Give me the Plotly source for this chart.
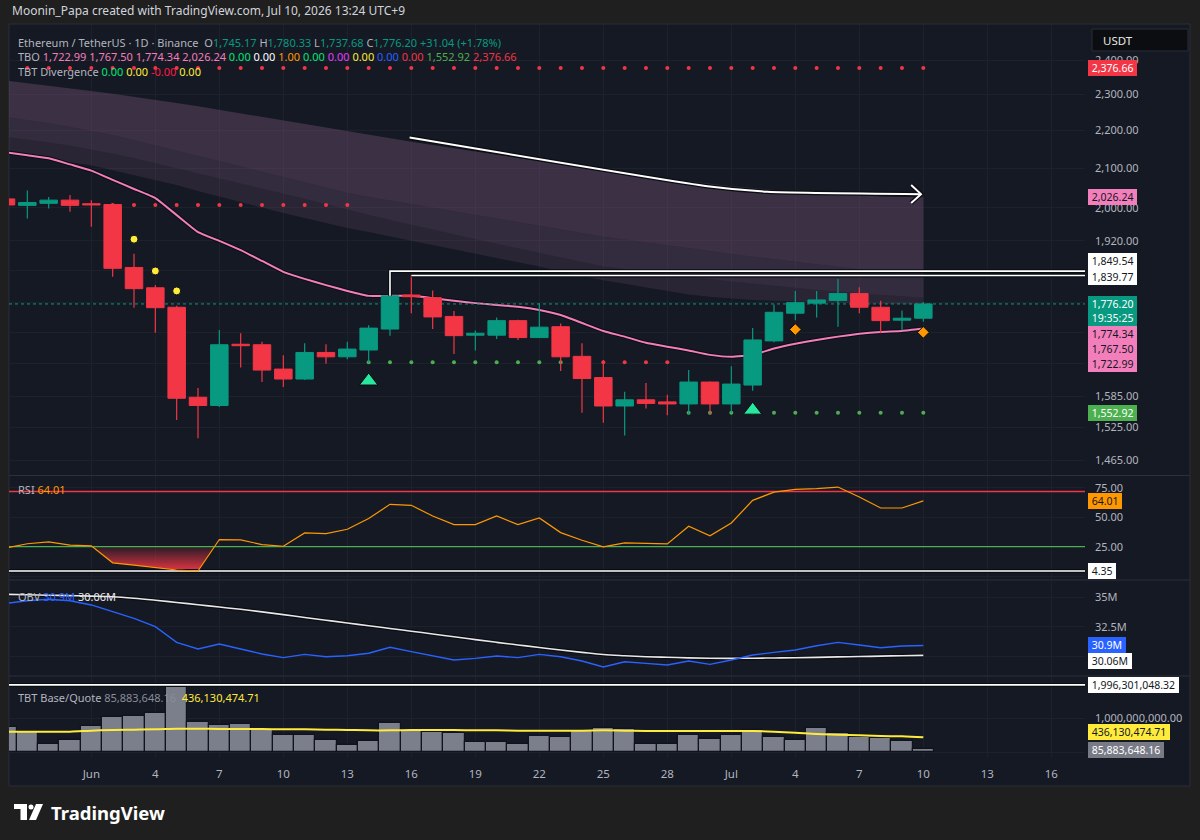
import math
import pandas as pd
import plotly.graph_objects as go

# ---------------- DATA ----------------
start_date = "2026-05-28"
opens = [2022, 2006, 2011, 2019, 2010, 2008, 1858, 1812, 1769, 1583, 1567, 1690, 1689, 1639, 1619, 1673,
         1664, 1678, 1722, 1796, 1790, 1749, 1709, 1709, 1740, 1704, 1727, 1665, 1622, 1566, 1578, 1574,
         1570, 1613, 1570, 1607, 1697, 1756, 1778, 1784, 1799, 1769, 1741, 1745.17]
highs = [2030, 2043, 2027, 2032, 2019, 2011, 1890, 1818, 1772, 1601, 1720, 1713, 1695, 1667, 1692, 1690,
         1695, 1730, 1849.54, 1839.77, 1806, 1761, 1719, 1747, 1742, 1778, 1734, 1692, 1657, 1594, 1611, 1588,
         1637, 1614, 1645, 1724, 1775, 1805, 1805, 1832, 1813, 1783, 1762, 1780.33]
lows = [2000, 1974, 1998, 1990, 1954, 1837, 1768, 1714, 1539, 1505, 1564, 1642, 1613, 1603, 1617, 1650,
        1659, 1652, 1708, 1756, 1722, 1670, 1677, 1701, 1699, 1704, 1635, 1553, 1534, 1510, 1561, 1548,
        1549, 1549, 1553, 1596, 1694, 1741, 1747, 1727, 1756, 1713, 1719, 1737.68]
closes = [2007, 2013, 2019, 2006, 2007, 1856, 1810, 1768, 1581, 1567, 1689, 1687, 1637, 1619, 1673, 1664,
          1680, 1724, 1794, 1792, 1748, 1708, 1713, 1740, 1704, 1726, 1664, 1620, 1566, 1578, 1571, 1570,
          1613, 1570, 1609, 1699, 1758, 1779, 1785, 1799, 1769, 1740, 1745.16, 1776.20]

# TBO lines
tbo_slow = [2142, 2134, 2126, 2110, 2094, 2070, 2047, 2024, 1982, 1941, 1920, 1898, 1873, 1848, 1832, 1818,
            1805, 1794, 1794, 1794, 1789, 1783, 1778, 1774, 1770, 1763, 1752, 1735, 1718, 1706, 1693, 1685,
            1677, 1668, 1664, 1668, 1681, 1691, 1699, 1706, 1712, 1716, 1718, 1722.99]
cloud_top = [2340, 2333, 2326, 2318, 2310, 2302, 2294, 2285, 2276, 2267, 2257, 2247, 2237, 2227, 2217, 2207,
             2197, 2188, 2179, 2170, 2161, 2152, 2143, 2134, 2126, 2118, 2110, 2102, 2094, 2087, 2080, 2073,
             2066, 2060, 2054, 2049, 2044, 2040, 2036, 2033, 2030, 2028, 2027, 2026.24]
cloud_b1 = [2237, 2229, 2220, 2210, 2199, 2187, 2174, 2160, 2146, 2132, 2118, 2104, 2090, 2076, 2063, 2050,
            2037, 2027, 2018, 2009, 2000, 1991, 1982, 1973, 1964, 1955, 1946, 1938, 1930, 1923, 1916, 1909,
            1902, 1895, 1889, 1883, 1877, 1871, 1865, 1859, 1853, 1847, 1842, 1837]
cloud_b2 = [2183, 2176, 2168, 2159, 2149, 2138, 2126, 2113, 2100, 2087, 2074, 2061, 2048, 2035, 2022, 2008,
            1994, 1982, 1970, 1958, 1946, 1935, 1924, 1913, 1902, 1891, 1880, 1870, 1860, 1854, 1848, 1842,
            1836, 1831, 1826, 1821, 1816, 1811, 1807, 1803, 1799, 1796, 1793, 1790]
cloud_bottom = [2140, 2132, 2124, 2116, 2108, 2095, 2082, 2070, 2057, 2042, 2028, 2014, 2000, 1987, 1975, 1963,
                1951, 1941, 1930, 1920, 1910, 1900, 1890, 1880, 1870, 1860, 1849, 1839, 1829, 1821, 1813, 1805,
                1797, 1792, 1788, 1785, 1783, 1781, 1780, 1779, 1778, 1777, 1776, 1774.34]
tbo_values = [1722.99, 1767.50, 1774.34, 2026.24]
tbo_flags = ["0.00", "0.00", "1.00", "0.00", "0.00", "0.00", "0.00", "0.00"]
tbo_flag_colors = ["#00e676", "#ffffff", "#ff9800", "#00e676", "#e040fb", "#ffeb3b", "#2962ff", "#f23645"]
support_level = 1552.92
resistance_level = 2376.66
div_values = ["0.00", "0.00", "-0.00", "0.00"]
div_colors = ["#00e676", "#ffeb3b", "#ff1744", "#ffeb3b"]

# marker rows (index ranges and price levels)
red_top_idx = list(range(1, 44))
red_mid_idx = list(range(5, 17)); red_mid_price = 2007
stop_green_idx = list(range(17, 27)); stop_red_idx = list(range(27, 32)); stop_price = 1653
green_low_idx = list(range(32, 44))
yellow_idx = [6, 7, 8]; yellow_price = [1924, 1850, 1805]
tri_idx = [17, 35]; tri_price = [1615, 1558]
dia_idx = [37, 43]; dia_price = [1721, 1715]

# drawing: white arrow (date index, price)
arrow_x = [18.92, 32.88, 35.70, 42.89]
arrow_y = [2181, 2054, 2040, 2034]
arrowhead_x = [42.43, 42.89, 42.43]
arrowhead_y = [2057, 2034, 2012]

rsi = [24.0, 27.5, 29.1, 26.3, 25.7, 11.3, 9.3, 7.5, 5.2, 4.35, 31.1, 30.8, 26.8, 25.4, 36.7, 36.2,
       39.8, 48.9, 61.0, 60.2, 51.1, 43.8, 43.8, 51.1, 43.8, 49.4, 37.0, 30.5, 24.8, 28.2, 27.7, 27.4,
       42.4, 34.2, 45.2, 64.4, 71.4, 73.7, 74.3, 75.7, 67.2, 57.9, 57.9, 64.01]
rsi_upper, rsi_lower = 72, 25

obv = [34.49, 34.71, 34.83, 34.71, 34.35, 33.78, 33.21, 32.50, 31.17, 30.60, 31.03, 30.60, 30.18, 29.87,
       30.15, 29.95, 30.03, 30.24, 30.75, 30.38, 30.03, 29.67, 29.81, 30.01, 29.87, 30.15, 29.95, 29.58,
       29.07, 29.52, 29.38, 29.24, 29.58, 29.30, 29.67, 30.09, 30.32, 30.52, 30.88, 31.17, 30.94, 30.71,
       30.86, 30.90]
obv_ma = [35.25, 35.22, 35.18, 35.14, 35.10, 35.05, 34.92, 34.75, 34.56, 34.37, 34.17, 33.98, 33.76, 33.53,
          33.28, 33.05, 32.82, 32.58, 32.35, 32.12, 31.88, 31.65, 31.40, 31.17, 30.95, 30.73, 30.52, 30.32,
          30.13, 30.03, 29.95, 29.90, 29.85, 29.82, 29.81, 29.82, 29.84, 29.86, 29.89, 29.93, 29.96, 30.00,
          30.03, 30.06]

volume = [744e6, 585e6, 228e6, 347e6, 774e6, 1042e6, 1071e6, 1171e6, 1996301048.32, 893e6, 804e6, 843e6,
          645e6, 506e6, 506e6, 357e6, 208e6, 327e6, 863e6, 655e6, 605e6, 556e6, 308e6, 298e6, 238e6, 476e6,
          437e6, 625e6, 724e6, 685e6, 228e6, 248e6, 516e6, 377e6, 516e6, 655e6, 456e6, 357e6, 714e6, 575e6,
          456e6, 417e6, 327e6, 85883648.16]
volume_ma = [605e6, 605e6, 605e6, 605e6, 635e6, 655e6, 665e6, 675e6, 694e6, 694e6, 685e6, 685e6, 685e6,
             675e6, 675e6, 665e6, 655e6, 645e6, 645e6, 655e6, 655e6, 655e6, 645e6, 645e6, 635e6, 635e6,
             635e6, 635e6, 645e6, 635e6, 625e6, 625e6, 625e6, 625e6, 625e6, 625e6, 605e6, 575e6, 536e6,
             516e6, 496e6, 476e6, 466e6, 436130474.71]

# ---------------- STYLE / LAYOUT ----------------
FONT = "Noto Sans"
OUTER_BG = "#1f1f1f"
CHART_BG = "#151924"
GRID = "#1d212c"
TXT = "#b2b5be"
UP = "#089981"
DOWN = "#f23645"
PINK = "#f27fbc"
FW, FH = 1200, 840
L_PX, R_PX = 9, 1085
DAY_PX, X0_PX = 21.333, 6.0

n = len(closes)
idx = list(range(n))
dates = pd.date_range(start_date, periods=52, freq="D")
tick_idx = list(range(4, 50, 3))
tick_txt = [dates[i].strftime("%b") if dates[i].day == 1 else str(dates[i].day) for i in tick_idx]
x_range = [(L_PX - X0_PX) / DAY_PX, (R_PX - X0_PX) / DAY_PX]
XE = x_range[1]

K, Y0 = 810.3, 6366.8   # log price -> pixel


def dom(top, bot):
    return [1 - bot / FH, 1 - top / FH]


def PX(x):
    return (x - L_PX) / (R_PX - L_PX)


def PY(y):
    return 1 - y / FH


main_range = [math.log10(math.exp((Y0 - 475) / K)), math.log10(math.exp((Y0 - 25) / K))]
rsi_range = [50 - (579 - 517.3) / 1.176, 50 + (517.3 - 476) / 1.176]
obv_range = [35 - (675 - 597.3) / 11.76, 35 + (597.3 - 581) / 11.76]
vol_range = [-(757 - 752) / 33.6e-9, (752 - 677) / 33.6e-9]

fig = go.Figure()


def sc(**kw):
    kw.setdefault("hoverinfo", "skip")
    kw.setdefault("showlegend", False)
    fig.add_trace(go.Scatter(**kw))


# --- cloud ---
sc(x=idx, y=cloud_top, mode="lines", line=dict(width=0))
sc(x=idx, y=cloud_b1, mode="lines", line=dict(width=0), fill="tonexty", fillcolor="rgba(150,100,145,0.31)")
sc(x=idx, y=cloud_b2, mode="lines", line=dict(width=0), fill="tonexty", fillcolor="rgba(150,100,145,0.24)")
sc(x=idx, y=cloud_bottom, mode="lines", line=dict(width=0), fill="tonexty", fillcolor="rgba(150,100,145,0.17)")
# --- slow pink line ---
sc(x=idx, y=tbo_slow, mode="lines", line=dict(color="#0b0d13", width=4, shape="spline", smoothing=0.4))
sc(x=idx, y=tbo_slow, mode="lines", line=dict(color=PINK, width=2, shape="spline", smoothing=0.4))
# --- current price dotted line ---
sc(x=x_range, y=[closes[-1]] * 2, mode="lines", line=dict(color=UP, width=1, dash="dot"))
# --- dot rows ---
sc(x=red_top_idx, y=[resistance_level] * len(red_top_idx), mode="markers", marker=dict(color=DOWN, size=4))
sc(x=red_mid_idx, y=[red_mid_price] * len(red_mid_idx), mode="markers", marker=dict(color=DOWN, size=4))
sc(x=stop_green_idx, y=[stop_price] * len(stop_green_idx), mode="markers", marker=dict(color="#4caf50", size=4))
sc(x=stop_red_idx, y=[stop_price] * len(stop_red_idx), mode="markers", marker=dict(color=DOWN, size=4))
sc(x=green_low_idx, y=[support_level] * len(green_low_idx), mode="markers", marker=dict(color="#4caf50", size=4))

# --- candles ---
for up in (True, False):
    col = UP if up else DOWN
    sel = [i for i in idx if (closes[i] >= opens[i]) == up]
    wx, wy, bx, by = [], [], [], []
    for i in sel:
        wx += [i, i, None]
        wy += [lows[i], highs[i], None]
        lo, hi = min(opens[i], closes[i]), max(opens[i], closes[i])
        if hi / lo < 1.0015:
            hi = lo * 1.0015
        bx += [i - 0.41, i + 0.41, i + 0.41, i - 0.41, i - 0.41, None]
        by += [lo, lo, hi, hi, lo, None]
    sc(x=wx, y=wy, mode="lines", line=dict(color=col, width=1.2))
    sc(x=bx, y=by, mode="lines", fill="toself", fillcolor=col, line=dict(color=col, width=1))

# --- signal markers ---
sc(x=yellow_idx, y=yellow_price, mode="markers",
   marker=dict(symbol="circle", color="#ffeb3b", size=8, line=dict(color="#0b0d13", width=1)))
sc(x=tri_idx, y=tri_price, mode="markers",
   marker=dict(symbol="triangle-up", color="#27e89c", size=16, line=dict(color="#0b0d13", width=1)))
sc(x=dia_idx, y=dia_price, mode="markers",
   marker=dict(symbol="diamond", color="#ff9800", size=9, line=dict(color="#0b0d13", width=1)))

# --- white high lines ---
for xs, ys in (([18, 18, XE], [closes[18], highs[18], highs[18]]), ([19, XE], [highs[19], highs[19]])):
    sc(x=xs, y=ys, mode="lines", line=dict(color="#0b0d13", width=4))
    sc(x=xs, y=ys, mode="lines", line=dict(color="#ffffff", width=1.6))
# --- arrow drawing ---
for w, c in ((4.5, "#0b0d13"), (2, "#ffffff")):
    sc(x=arrow_x, y=arrow_y, mode="lines", line=dict(color=c, width=w, shape="spline", smoothing=0.5))
    sc(x=arrowhead_x, y=arrowhead_y, mode="lines", line=dict(color=c, width=w))

# --- RSI pane ---
def below_polygon(xs, vs, lvl):
    px, py = [], []
    for k in range(len(vs)):
        px.append(xs[k]); py.append(min(vs[k], lvl))
        if k < len(vs) - 1 and (vs[k] - lvl) * (vs[k + 1] - lvl) < 0:
            t = (lvl - vs[k]) / (vs[k + 1] - vs[k])
            px.append(xs[k] + t); py.append(lvl)
    return px + px[::-1], py + [lvl] * len(px)


rpx, rpy = below_polygon(idx, rsi, rsi_lower)
sc(x=rpx, y=rpy, xaxis="x2", yaxis="y2", mode="lines", line=dict(width=0), fill="toself",
   fillgradient=dict(type="vertical", colorscale=[[0, "rgba(242,54,69,0.95)"], [1, "rgba(242,54,69,0.08)"]]))
sc(x=x_range, y=[rsi_upper] * 2, xaxis="x2", yaxis="y2", mode="lines", line=dict(color=DOWN, width=1.6))
sc(x=x_range, y=[rsi_lower] * 2, xaxis="x2", yaxis="y2", mode="lines", line=dict(color="#4caf50", width=1.2))
sc(x=x_range, y=[min(rsi)] * 2, xaxis="x2", yaxis="y2", mode="lines", line=dict(color="#0b0d13", width=4))
sc(x=x_range, y=[min(rsi)] * 2, xaxis="x2", yaxis="y2", mode="lines", line=dict(color="#ffffff", width=1.6))
sc(x=idx, y=rsi, xaxis="x2", yaxis="y2", mode="lines", line=dict(color="#ff9800", width=1.2))

# --- OBV pane ---
sc(x=idx, y=obv_ma, xaxis="x3", yaxis="y3", mode="lines", line=dict(color="#0b0d13", width=4, shape="spline"))
sc(x=idx, y=obv_ma, xaxis="x3", yaxis="y3", mode="lines", line=dict(color="#e8e8ea", width=1.6, shape="spline"))
sc(x=idx, y=obv, xaxis="x3", yaxis="y3", mode="lines", line=dict(color="#2962ff", width=1.4))

# --- volume pane ---
fig.add_trace(go.Bar(x=idx, y=volume, xaxis="x4", yaxis="y4", width=1.0, hoverinfo="skip", showlegend=False,
                     marker=dict(color="#7b7e8b", line=dict(color="#10131b", width=1.2))))
sc(x=x_range, y=[max(volume)] * 2, xaxis="x4", yaxis="y4", mode="lines", line=dict(color="#0b0d13", width=4))
sc(x=x_range, y=[max(volume)] * 2, xaxis="x4", yaxis="y4", mode="lines", line=dict(color="#ffffff", width=1.6))
sc(x=idx, y=volume_ma, xaxis="x4", yaxis="y4", mode="lines", line=dict(color="#ffeb3b", width=2, shape="spline"))

# ---------------- axes ----------------
xcommon = dict(range=x_range, showgrid=True, gridcolor=GRID, gridwidth=1, zeroline=False, showline=False,
               tickmode="array", tickvals=tick_idx, ticktext=tick_txt, ticks="", fixedrange=True)
ycommon = dict(side="right", showgrid=True, gridcolor=GRID, gridwidth=1, zeroline=False, showline=False,
               ticks="", tickfont=dict(color=TXT, size=11, family=FONT), ticklabelstandoff=9, fixedrange=True)

# tick labels that sit under the value boxes are blank (hidden in the reference)
main_ticks = [2400, 2300, 2200, 2100, 2000, 1920, 1850, 1780, 1715, 1650, 1585, 1525, 1465]
main_hidden = {1850, 1780, 1715, 1650}
main_text = ["" if v in main_hidden else f"{v:,.2f}" for v in main_ticks]

fig.update_layout(
    width=FW, height=FH, autosize=False,
    margin=dict(l=L_PX, r=FW - R_PX, t=0, b=0),
    paper_bgcolor=OUTER_BG, plot_bgcolor=CHART_BG,
    showlegend=False, hovermode=False,
    font=dict(family=FONT, color=TXT),
    xaxis=dict(xcommon, anchor="y", showticklabels=False),
    xaxis2=dict(xcommon, anchor="y2", showticklabels=False),
    xaxis3=dict(xcommon, anchor="y3", showticklabels=False),
    xaxis4=dict(xcommon, anchor="y4", showticklabels=True, ticklabelstandoff=8,
                tickfont=dict(color=TXT, size=11.5, family=FONT)),
    yaxis=dict(ycommon, domain=dom(25, 475), type="log", range=main_range, anchor="x",
               tickmode="array", tickvals=main_ticks, ticktext=main_text),
    yaxis2=dict(ycommon, domain=dom(476, 579), range=rsi_range, anchor="x2",
                tickmode="array", tickvals=[0, 25, 50, 75], ticktext=["", "25.00", "50.00", "75.00"]),
    yaxis3=dict(ycommon, domain=dom(581, 675), range=obv_range, anchor="x3",
                tickmode="array", tickvals=[30, 32.5, 35], ticktext=["", "32.5M", "35M"]),
    yaxis4=dict(ycommon, domain=dom(677, 757), range=vol_range, anchor="x4",
                tickmode="array", tickvals=[0, 1e9], ticktext=["", "1,000,000,000.00"]),
    bargap=0,
)

# ---------------- shapes ----------------
shapes = []
shapes.append(dict(type="rect", xref="paper", yref="paper", x0=PX(9), x1=PX(1190), y0=PY(786), y1=PY(24),
                   fillcolor=CHART_BG, line=dict(color="#2a2e39", width=1), layer="below"))
for yy in (475.5, 580, 676):
    shapes.append(dict(type="line", xref="paper", yref="paper", x0=PX(9), x1=PX(1190), y0=PY(yy), y1=PY(yy),
                       line=dict(color="#2c303b", width=1), layer="above"))
shapes.append(dict(type="rect", xref="paper", yref="paper", x0=PX(1092), x1=PX(1188), y0=PY(51), y1=PY(29),
                   fillcolor="#0c0d10", line=dict(color="#2a2e39", width=1), layer="above"))
# TradingView logo glyph
shapes.append(dict(type="rect", xref="paper", yref="paper", x0=PX(14), x1=PX(27), y0=PY(809), y1=PY(804),
                   fillcolor="#ffffff", line=dict(width=0)))
shapes.append(dict(type="rect", xref="paper", yref="paper", x0=PX(20.5), x1=PX(27), y0=PY(820), y1=PY(804),
                   fillcolor="#ffffff", line=dict(width=0)))
shapes.append(dict(type="circle", xref="paper", yref="paper", x0=PX(28.5), x1=PX(33.5), y0=PY(809.5), y1=PY(804.5),
                   fillcolor="#ffffff", line=dict(width=0)))
shapes.append(dict(type="path", xref="paper", yref="paper",
                   path=f"M {PX(36)},{PY(804)} L {PX(43)},{PY(804)} L {PX(36)},{PY(820)} L {PX(29)},{PY(820)} Z",
                   fillcolor="#ffffff", line=dict(width=0)))
fig.update_layout(shapes=shapes)

# ---------------- annotations ----------------
ann = []


def txt(x, y, text, size=11, color=TXT, anchor="left", yanchor="middle", **kw):
    ann.append(dict(x=PX(x), y=PY(y), xref="paper", yref="paper", xanchor=anchor, yanchor=yanchor,
                    text=text, showarrow=False, font=dict(size=size, color=color, family=FONT), **kw))


def span(t, c):
    return f"<span style='color:{c}'>{t}</span>"


txt(10, 11, "Moonin_Papa created with TradingView.com, Jul 10, 2026 13:24 UTC+9", size=12, color="#d1d4dc")

chg = closes[-1] - closes[-2]
pct = chg / closes[-2] * 100
line1 = (span("Ethereum / TetherUS · 1D · Binance", TXT) + "  " +
         span("O", TXT) + span(f"{opens[-1]:,.2f}", UP) + " " +
         span("H", TXT) + span(f"{highs[-1]:,.2f}", UP) + " " +
         span("L", TXT) + span(f"{lows[-1]:,.2f}", UP) + " " +
         span("C", TXT) + span(f"{closes[-1]:,.2f}", UP) + " " +
         span(f"{chg:+,.2f} ({pct:+.2f}%)", UP))
line2 = span("TBO", TXT) + " " + " ".join(span(f"{v:,.2f}", PINK) for v in tbo_values) + " " + \
    " ".join(span(v, c) for v, c in zip(tbo_flags, tbo_flag_colors)) + " " + \
    span(f"{support_level:,.2f}", "#4caf50") + " " + span(f"{resistance_level:,.2f}", DOWN)
line3 = span("TBT Divergence", TXT) + " " + " ".join(span(v, c) for v, c in zip(div_values, div_colors))
# the three legend rows as one block
txt(16, 57, line1 + "<br>" + line2 + "<br>" + line3, size=11, align="left")
txt(16, 489, span("RSI", TXT) + " " + span(f"{rsi[-1]:.2f}", "#ff9800"))
txt(16, 596, span("OBV", TXT) + " " + span(f"{obv[-1]:.1f}M", "#2962ff") + " " + span(f"{obv_ma[-1]:.2f}M", "#e8e8ea"))
txt(16, 697, span("TBT Base/Quote", TXT) + " " + span(f"{volume[-1]:,.2f}", "#8a8d99") + "  " +
    span(f"{volume_ma[-1]:,.2f}", "#ffeb3b"))
txt(1101, 40, "USDT", size=11.5, color="#e6e6e6")
txt(49, 812, "<b>TradingView</b>", size=18.5, color="#ffffff")


def axlabel(text, yval, yref, bg, fg, yshift=0):
    ann.append(dict(x=PX(1088), xref="paper", xanchor="left", y=yval, yref=yref, yanchor="middle",
                    text=text, showarrow=False, bgcolor=bg, bordercolor=bg, borderwidth=1, borderpad=0,
                    font=dict(size=10.5, color=fg, family=FONT), yshift=yshift, align="left"))


lg = math.log10
axlabel(f" {resistance_level:,.2f} ", lg(resistance_level), "y", DOWN, "#ffffff")
axlabel(f" {tbo_values[3]:,.2f} ", lg(tbo_values[3]), "y", PINK, "#131722")
axlabel(f" {highs[18]:,.2f} ", lg(highs[18]), "y", "#ffffff", "#131722", 10.5)
axlabel(f" {highs[19]:,.2f} ", lg(highs[19]), "y", "#ffffff", "#131722", -1.5)
axlabel(f" {closes[-1]:,.2f} <br> 19:35:25 ", lg(closes[-1]), "y", UP, "#ffffff", -7)
axlabel(f" {tbo_values[2]:,.2f} ", lg(tbo_values[2]), "y", PINK, "#131722", -29)
axlabel(f" {tbo_values[1]:,.2f} ", lg(tbo_values[1]), "y", PINK, "#131722", -41)
axlabel(f" {tbo_values[0]:,.2f} ", lg(tbo_values[0]), "y", PINK, "#131722", -35.5)
axlabel(f" {support_level:,.2f} ", lg(support_level), "y", "#4caf50", "#ffffff")
axlabel(f" {rsi[-1]:.2f} ", rsi[-1], "y2", "#ff9800", "#131722")
axlabel(f" {min(rsi):.2f} ", min(rsi), "y2", "#ffffff", "#131722")
axlabel(f" {obv[-1]:.1f}M ", obv[-1], "y3", "#2962ff", "#ffffff", 1)
axlabel(f" {obv_ma[-1]:.2f}M ", obv_ma[-1], "y3", "#ffffff", "#131722", -6)
axlabel(f" {max(volume):,.2f} ", max(volume), "y4", "#ffffff", "#131722")
axlabel(f" {volume_ma[-1]:,.2f} ", volume_ma[-1], "y4", "#ffeb3b", "#131722", 5)
axlabel(f" {volume[-1]:,.2f} ", volume[-1], "y4", "#787b86", "#ffffff", -1)
fig.update_layout(annotations=ann)

fig.write_html("out.html", config=dict(displayModeBar=False))
